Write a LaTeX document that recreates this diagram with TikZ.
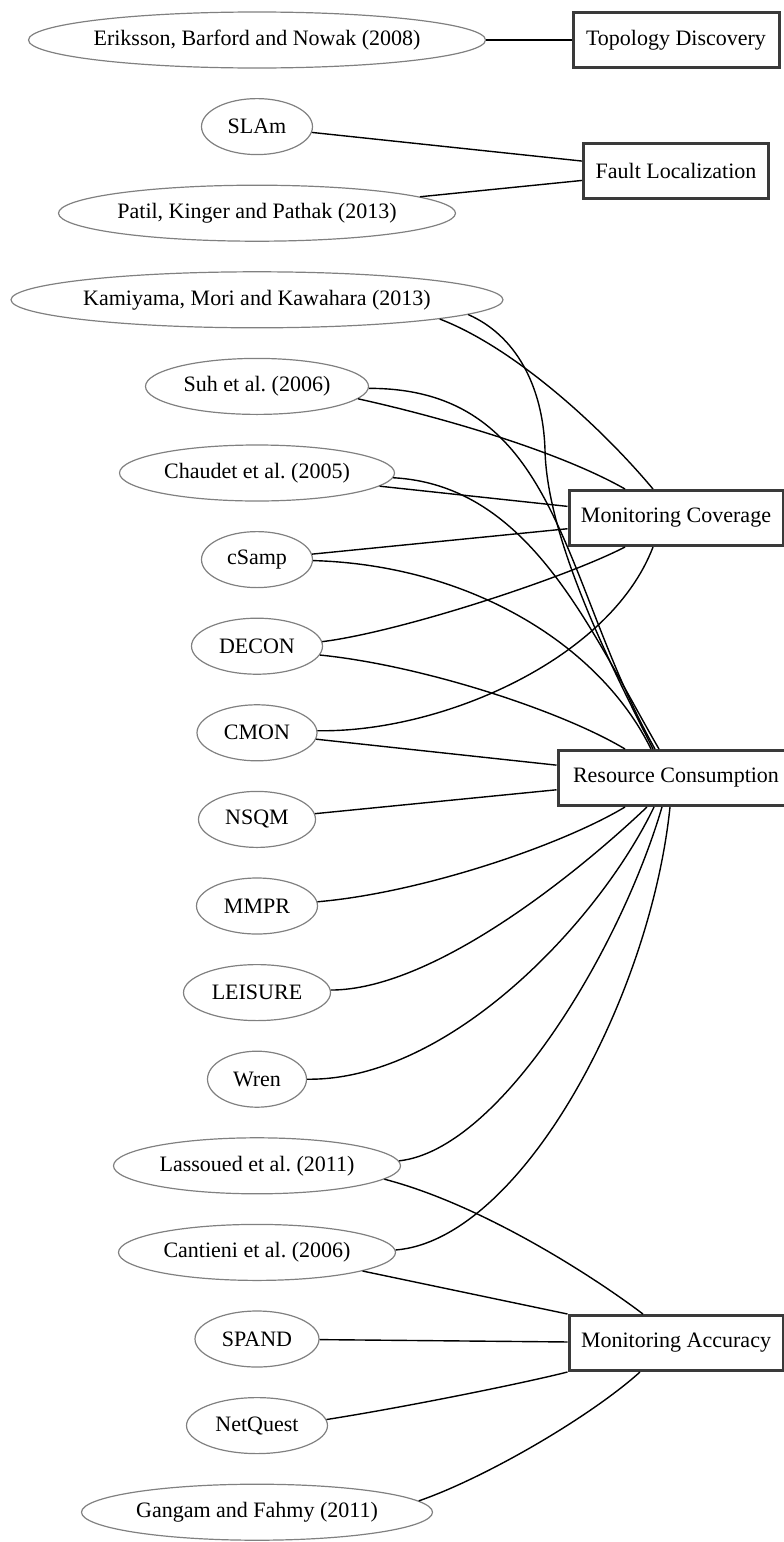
\documentclass[tikz,border=0pt]{standalone}
\usepackage{fontspec}
\setmainfont{Liberation Serif}
\usetikzlibrary{shapes.geometric}
\definecolor{ringgray}{RGB}{128,128,128}
\definecolor{boxgray}{RGB}{58,58,58}
\frenchspacing
\begin{document}
\begin{tikzpicture}[x=1pt,y=1pt,
  paper/.style={ellipse, draw=ringgray, line width=1.2pt, minimum height=56pt,
    inner ysep=0pt, inner xsep=-5pt, font=\fontsize{22}{24}\selectfont},
  topic/.style={rectangle, draw=boxgray, line width=3pt, minimum height=55pt,
    inner sep=0pt, font=\fontsize{22}{24}\selectfont},
  link/.style={line width=1.4pt, black}]
\useasboundingbox (0,0) rectangle (784,-1542);

% publications
\node[paper, minimum width=457pt] (eri) at (257,-40)    {Eriksson, Barford and Nowak (2008)};
\node[paper, minimum width=111pt] (slam) at (257,-126.6) {SLAm};
\node[paper, minimum width=397pt] (pat) at (257,-213.2) {Patil, Kinger and Pathak (2013)};
\node[paper, minimum width=492pt] (kam) at (257,-299.8) {Kamiyama, Mori and Kawahara (2013)};
\node[paper, minimum width=223pt] (suh) at (257,-386.4) {Suh et al. (2006)};
\node[paper, minimum width=275pt] (cha) at (257,-473)   {Chaudet et al. (2005)};
\node[paper, minimum width=111pt] (csa) at (257,-559.6) {cSamp};
\node[paper, minimum width=131pt] (dec) at (257,-646.2) {DECON};
\node[paper, minimum width=120pt] (cmo) at (257,-732.8) {CMON};
\node[paper, minimum width=117pt] (nsq) at (257,-819.4) {NSQM};
\node[paper, minimum width=121pt] (mmp) at (257,-906)   {MMPR};
\node[paper, minimum width=147pt] (lei) at (257,-992.6) {LEISURE};
\node[paper, minimum width=99pt]  (wre) at (257,-1079.2) {Wren};
\node[paper, minimum width=287pt] (las) at (257,-1165.8) {Lassoued et al. (2011)};
\node[paper, minimum width=277pt] (can) at (257,-1252.4) {Cantieni et al. (2006)};
\node[paper, minimum width=124pt] (spa) at (257,-1339)   {SPAND};
\node[paper, minimum width=141pt] (net) at (257,-1425.6) {NetQuest};
\node[paper, minimum width=351pt] (gan) at (257,-1512.2) {Gangam and Fahmy (2011)};

% topics
\node[topic, minimum width=206pt] (top)   at (676,-40)   {Topology Discovery};
\node[topic, minimum width=185pt] (fault) at (676,-171)  {Fault Localization};
\node[topic, minimum width=214pt] (mc)    at (676,-518)  {Monitoring Coverage};
\node[topic, minimum width=236pt] (rc)    at (676,-778)  {Resource Consumption};
\node[topic, minimum width=214pt] (ma)    at (676,-1343) {Monitoring Accuracy};

% Topology Discovery, Fault Localization
\draw[link] (eri) -- (top);
\draw[link] (slam) -- (fault);
\draw[link] (pat) -- (fault);

% Monitoring Coverage
\draw[link] (kam.-6.5) .. controls (515,-348) and (602,-428) .. ([xshift=-23pt]mc.north);
\draw[link] (suh.-7) .. controls (445,-418) and (560,-452) .. ([xshift=-51pt]mc.north);
\draw[link] (cha) -- (mc);
\draw[link] (csa) -- (mc);
\draw[link] (dec.4) .. controls (400,-632) and (565,-578) .. ([xshift=-51pt]mc.south);
\draw[link] (cmo.2) .. controls (440,-733) and (610,-660) .. ([xshift=-23pt]mc.south);

% Resource Consumption, from above
\draw[link] (kam.-4.6) .. controls (515,-335) and (543,-385) .. (545,-450)
  .. controls (547,-540) and (612,-668) .. ([xshift=-23pt]rc.north);
\draw[link] (suh.-1) .. controls (560,-388) and (560,-580) .. ([xshift=-21pt]rc.north);
\draw[link] (cha.-2) .. controls (530,-485) and (590,-630) .. ([xshift=-17pt]rc.north);
\draw[link] (csa.-1) .. controls (470,-565) and (600,-645) .. ([xshift=-25pt]rc.north);
\draw[link] (dec.-8) .. controls (420,-665) and (560,-710) .. ([xshift=-51pt]rc.north);
\draw[link] (cmo) -- (rc);
\draw[link] (nsq) -- (rc);

% Resource Consumption, from below
\draw[link] (mmp.4) .. controls (420,-893) and (560,-846) .. ([xshift=-51pt]rc.south);
\draw[link] (lei.2) .. controls (430,-990) and (570,-880) .. ([xshift=-29pt]rc.south);
\draw[link] (wre.0) .. controls (450,-1081) and (600,-920) .. ([xshift=-22pt]rc.south);
\draw[link] (las.2) .. controls (500,-1150) and (620,-950) .. ([xshift=-14pt]rc.south);
\draw[link] (can.1) .. controls (520,-1240) and (650,-1000) .. ([xshift=-6pt]rc.south);

% Monitoring Accuracy
\draw[link] (las.-6) .. controls (480,-1204) and (590,-1274) .. ([xshift=-33pt]ma.north);
\draw[link] (can.-10.2) -- (ma.north west);
\draw[link] (spa) -- (ma);
\draw[link] (net.5) .. controls (400,-1408) and (520,-1384) .. (ma.south west);
\draw[link] (gan.4.5) .. controls (485,-1478) and (590,-1417) .. ([xshift=-36pt]ma.south);
\end{tikzpicture}
\end{document}
